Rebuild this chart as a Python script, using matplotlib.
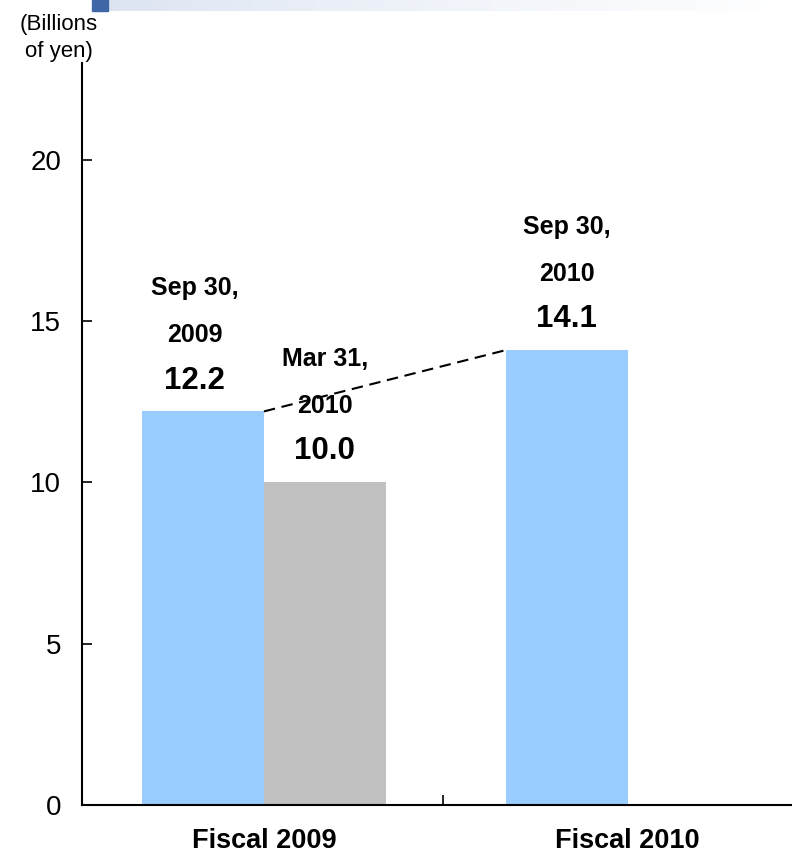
import numpy as np
import matplotlib.pyplot as plt

plt.rcParams['font.family'] = ['Liberation Sans', 'DejaVu Sans']

# data
bar_x = [0.335, 0.673, 1.343]
bar_vals = [12.2, 10.0, 14.1]
bar_colors = ['#99CCFF', '#C0C0C0', '#99CCFF']
date_labels = ['Sep 30,\n2009', 'Mar 31,\n2010', 'Sep 30,\n2010']
value_labels = ['12.2', '10.0', '14.1']
cat_pos = [0.504, 1.512]
cat_labels = ['Fiscal 2009', 'Fiscal 2010']
yticks = [0, 5, 10, 15, 20]
bar_w = 0.338

fig = plt.figure(figsize=(7.92, 8.57), dpi=100)

# header strip at the top
hdr = fig.add_axes([108 / 792, 1 - 11 / 857, 1 - 108 / 792, 11 / 857])
grad = np.linspace(0, 1, 256)[None, :]
cols = np.array([220, 228, 242]) / 255.0
img = np.ones((1, 256, 3)) * cols + (1 - cols) * grad[..., None] ** 0.8
hdr.imshow(img, aspect='auto', extent=[0, 1, 0, 1])
hdr.axis('off')
fig.patches.append(plt.Rectangle((92 / 792, 1 - 11 / 857), 16 / 792, 11 / 857,
                                 transform=fig.transFigure, color='#3F67A8'))

ax = fig.add_axes([82 / 792, 52 / 857, 710 / 792, 742 / 857])
ax.bar(bar_x, bar_vals, width=bar_w, color=bar_colors, zorder=2)

# dashed connector between the two September bars
ax.plot([bar_x[0] + bar_w / 2, bar_x[2] - bar_w / 2], [bar_vals[0], bar_vals[2]],
        ls=(0, (5.5, 3.2)), color='black', lw=1.5, zorder=3)

shifts = [-8, 0, 0]
for x, v, d, s, dx in zip(bar_x, bar_vals, date_labels, value_labels, shifts):
    ax.annotate(s, (x, v), xytext=(dx * 0.72, 16.5), textcoords='offset points',
                ha='center', va='baseline', fontsize=22.5, fontweight='bold')
    ax.annotate(d, (x, v), xytext=(dx * 0.72, 50), textcoords='offset points',
                ha='center', va='baseline', fontsize=18, fontweight='bold',
                linespacing=2.2)

ax.set_xlim(0, 1.967)
ax.set_ylim(0, 23)
ax.set_yticks(yticks)
ax.tick_params(axis='y', direction='in', length=7.2, width=1.2, labelsize=20, pad=15)
ax.set_xticks([1.0])
ax.set_xticklabels([])
ax.tick_params(axis='x', direction='in', length=7.2, width=1.2)

for x, lab in zip(cat_pos, cat_labels):
    ax.text(x, -49 / 742, lab, transform=ax.get_xaxis_transform(),
            ha='center', va='bottom', fontsize=19.5, fontweight='bold')

for side in ['top', 'right']:
    ax.spines[side].set_visible(False)
for side in ['left', 'bottom']:
    ax.spines[side].set_linewidth(1.5)

fig.text(59 / 792, 1 - 30 / 857, '(Billions', ha='center', va='baseline', fontsize=16)
fig.text(59 / 792, 1 - 57 / 857, 'of yen)', ha='center', va='baseline', fontsize=16)

fig.savefig('out.png', dpi=100)
